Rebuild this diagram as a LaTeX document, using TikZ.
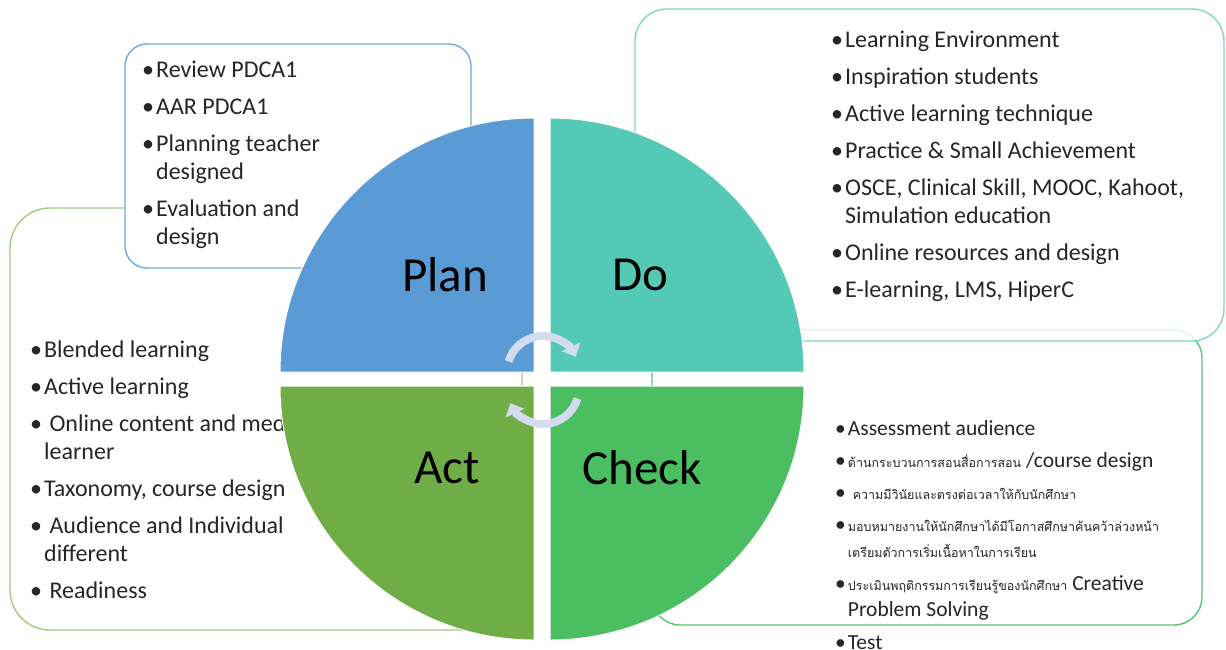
\documentclass[tikz,border=0pt]{standalone}
\usepackage{fontspec}
\setmainfont{Carlito}
\newfontfamily\thaifont[Script=Thai]{Loma}
\usetikzlibrary{arrows.meta}

\definecolor{planblue}{HTML}{5B9BD5}
\definecolor{doteal}{HTML}{53C9B6}
\definecolor{actgreen}{HTML}{70AD47}
\definecolor{checkgreen}{HTML}{4ABE61}
\definecolor{planline}{HTML}{6FA8DC}
\definecolor{doline}{HTML}{7DD6C6}
\definecolor{actline}{HTML}{9FCD7E}
\definecolor{checkline}{HTML}{58C66F}
\definecolor{cyclegray}{HTML}{D3DCEE}
\definecolor{textgray}{HTML}{262626}

\newcommand{\bul}{\textbullet\hspace{2pt}}
\newcommand{\ind}{\hphantom{\textbullet}\hspace{2pt}}
\newcommand{\thai}[1]{{\thaifont\fontsize{12.5}{26}\selectfont #1}}

\begin{document}
\begin{tikzpicture}[x=1pt, y=-1pt,
    box/.style={line width=1.4pt, rounded corners=#1, fill=white},
    quarter/.style={draw=white, line width=1pt},
    phase/.style={font=\fontsize{49}{49}\selectfont, text=black, inner sep=0pt},
    listtext/.style={align=left, anchor=west, inner sep=0pt, text=textgray,
        font=\fontsize{24}{28}\selectfont},
    cyclearrow/.style={line width=8pt, draw=cyclegray, -{Triangle[width=20pt,length=11pt]}}]
    \useasboundingbox (0,0) rectangle (1226,649);
    % act box (behind everything)
    \draw[box=40pt, draw=actline] (10,208) rectangle (522,630);
    \node[listtext] (acttext) at (30,470) {\bul Blended learning\\[9pt]
        \bul Active learning\\[9pt]
        \bul\ Online content and media for\\
        \ind learner\\[9pt]
        \bul Taxonomy, course design\\[9pt]
        \bul\ Audience and Individual\\
        \ind different\\[9pt]
        \bul\ Readiness};
    % plan box
    \draw[box=22pt, draw=planline] (125,44) rectangle (471,268);
    \node[listtext] (plantext) at (142,155) {\bul Review PDCA1\\[9pt]
        \bul AAR PDCA1\\[9pt]
        \bul Planning teacher\\
        \ind designed\\[9pt]
        \bul Evaluation and\\
        \ind design};
    % check box
    \draw[box=28pt, draw=checkline] (652,330) rectangle (1202,625);
    \node[listtext, font=\fontsize{21.5}{26}\selectfont] (checktext) at (835,535) {\bul Assessment audience\\[6pt]
        \bul\thai{ด้านกระบวนการสอนสื่อการสอน} /course design\\[6pt]
        \bul\ \thai{ความมีวินัยและตรงต่อเวลาให้กับนักศึกษา}\\[6pt]
        \bul\thai{มอบหมายงานให้นักศึกษาได้มีโอกาสศึกษาค้นคว้าล่วงหน้า}\\
        \ind\thai{เตรียมตัวการเริ่มเนื้อหาในการเรียน}\\[7pt]
        \bul\thai{ประเมินพฤติกรรมการเรียนรู้ของนักศึกษา} Creative\\
        \ind Problem Solving\\[7pt]
        \bul Test};
    % do box
    \draw[box=32pt, draw=doline, fill opacity=0.82] (635,9) rectangle (1224,341);
    \node[listtext] (dotext) at (831,166) {\bul Learning Environment\\[9pt]
        \bul Inspiration students\\[9pt]
        \bul Active learning technique\\[9pt]
        \bul Practice \& Small Achievement\\[9pt]
        \bul OSCE, Clinical Skill, MOOC, Kahoot,\\
        \ind Simulation education\\[9pt]
        \bul Online resources and design\\[9pt]
        \bul E-learning, LMS, HiperC};
    % four quarters
    \fill[quarter, fill=planblue] (534,372) -- +(-254,0) arc[start angle=180, end angle=270, radius=254] -- cycle;
    \fill[quarter, fill=doteal] (550,372) -- +(254,0) arc[start angle=0, end angle=-90, radius=254] -- cycle;
    \fill[quarter, fill=actgreen] (534,386) -- +(-254,0) arc[start angle=180, end angle=90, radius=254] -- cycle;
    \fill[quarter, fill=checkgreen] (550,386) -- +(254,0) arc[start angle=0, end angle=90, radius=254] -- cycle;
    \node[phase] (planlabel) at (445,275) {Plan};
    \node[phase] (dolabel) at (640,275) {Do};
    \node[phase] (actlabel) at (447,468) {Act};
    \node[phase] (checklabel) at (642,468) {Check};
    % turning arrows
    \draw[cyclearrow] (543,372) ++(197:36) arc[start angle=197, end angle=335, radius=36];
    \draw[cyclearrow] (543,388) ++(17:36) arc[start angle=17, end angle=155, radius=36];
\end{tikzpicture}
\end{document}
